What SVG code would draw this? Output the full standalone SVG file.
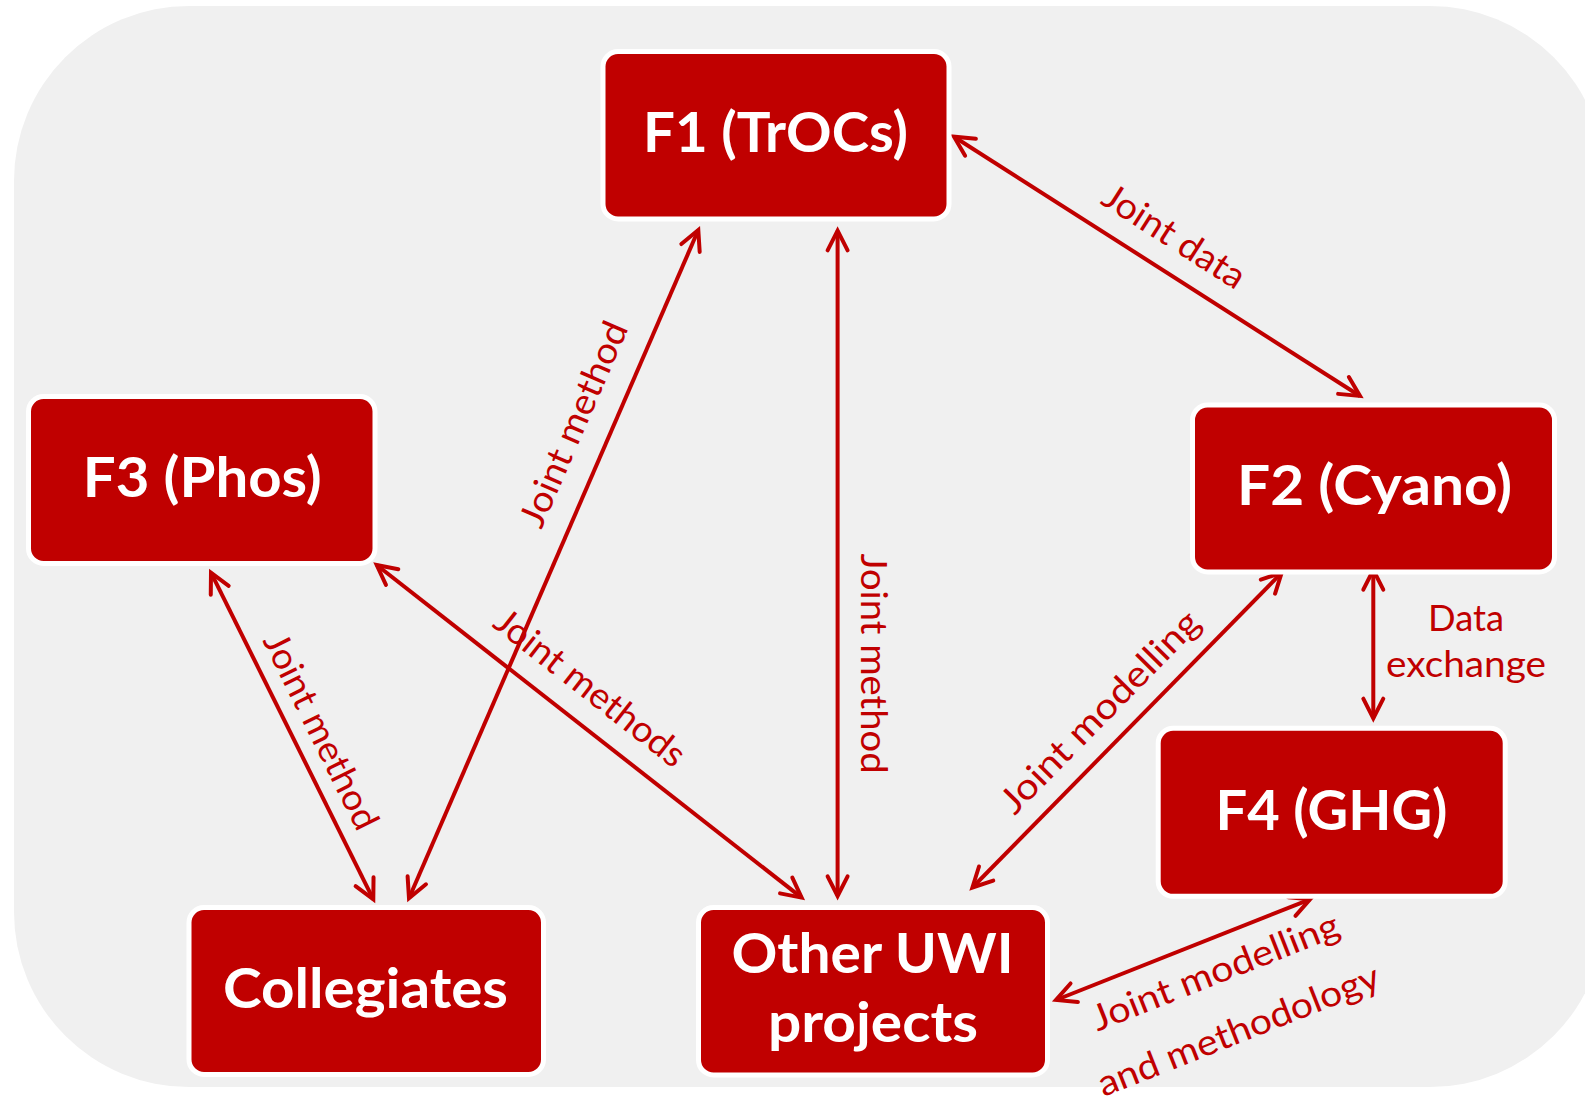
<svg xmlns="http://www.w3.org/2000/svg" width="1585" height="1100" viewBox="0 0 1585 1100">
<style>
.box{fill:#C00000;stroke:#FFFFFF;stroke-width:5}
.bt{font-family:Lato,"Open Sans","Liberation Sans",sans-serif;font-weight:bold;font-size:56px;fill:#FFFFFF;text-anchor:middle}
.lb{font-family:Lato,"Open Sans","Liberation Sans",sans-serif;font-size:36px;fill:#C00000;text-anchor:middle}
.ar{stroke:#C00000;stroke-width:4;fill:none;marker-start:url(#ah);marker-end:url(#ah)}
</style>
<defs>
<marker id="ah" markerUnits="userSpaceOnUse" orient="auto-start-reverse" refX="0" refY="0" markerWidth="40" markerHeight="40" viewBox="-30 -20 40 40" overflow="visible">
<path d="M-19.6,-10 L0,0 L-19.6,10" fill="none" stroke="#C00000" stroke-width="4" stroke-linecap="round" stroke-linejoin="miter"/>
</marker>
</defs>
<rect x="14" y="6" width="1591" height="1081" rx="175" fill="#F0F0F0"/>
<g id="connectors">
<line class="ar" x1="954" y1="136.7" x2="1360" y2="396"/>
<line class="ar" x1="698.3" y1="230" x2="409" y2="898.3"/>
<line class="ar" x1="837.6" y1="230.7" x2="837.6" y2="896"/>
<line class="ar" x1="211" y1="572.7" x2="373.3" y2="899.3"/>
<line class="ar" x1="376.7" y1="565" x2="801.6" y2="897.6"/>
<line class="ar" x1="1281.7" y1="572.7" x2="972.4" y2="887.5"/>
<line class="ar" x1="1373.3" y1="570" x2="1373.3" y2="718.3"/>
<line class="ar" x1="1056" y1="1000" x2="1310" y2="899.3"/>
<text class="lb" transform="translate(1167.5,246.7) rotate(32.6)" textLength="162" lengthAdjust="spacingAndGlyphs">Joint data</text>
<text class="lb" transform="translate(585,429) rotate(-66.6)" textLength="220" lengthAdjust="spacingAndGlyphs">Joint method</text>
<text class="lb" transform="translate(861,663.5) rotate(90)" textLength="220" lengthAdjust="spacingAndGlyphs">Joint method</text>
<text class="lb" transform="translate(310,736.7) rotate(63.6)" textLength="215" lengthAdjust="spacingAndGlyphs">Joint method</text>
<text class="lb" transform="translate(582.5,697.5) rotate(38.05)" textLength="232" lengthAdjust="spacingAndGlyphs">Joint methods</text>
<text class="lb" transform="translate(1108.6,720.4) rotate(-45.5)" textLength="268" lengthAdjust="spacingAndGlyphs">Joint modelling</text>
<text class="lb" x="1466" y="630.7" textLength="76" lengthAdjust="spacingAndGlyphs">Data</text>
<text class="lb" x="1466" y="677.3" textLength="160" lengthAdjust="spacingAndGlyphs">exchange</text>
<g transform="translate(1219.8,983.3) rotate(-21.6)">
<text class="lb" x="0" y="0" textLength="263" lengthAdjust="spacingAndGlyphs">Joint modelling</text>
<text class="lb" x="0" y="63" textLength="300" lengthAdjust="spacingAndGlyphs">and methodology</text>
</g>
</g>
<g id="f1">
<rect class="box" x="603" y="51.5" width="346" height="167.5" rx="15"/>
<text class="bt" x="775.5" y="151.7" textLength="265" lengthAdjust="spacingAndGlyphs">F1 (TrOCs)</text>
</g>
<g id="f2">
<rect class="box" x="1192.5" y="405" width="362" height="167" rx="15"/>
<text class="bt" x="1374.5" y="505" textLength="275" lengthAdjust="spacingAndGlyphs">F2 (Cyano)</text>
</g>
<g id="f3">
<rect class="box" x="28.5" y="396.5" width="346.5" height="167" rx="15"/>
<text class="bt" x="202.3" y="497.3" textLength="239" lengthAdjust="spacingAndGlyphs">F3 (Phos)</text>
</g>
<g id="f4">
<rect class="box" x="1158.2" y="728.3" width="347" height="168" rx="15"/>
<text class="bt" x="1331.5" y="830" textLength="232" lengthAdjust="spacingAndGlyphs">F4 (GHG)</text>
</g>
<g id="collegiates">
<rect class="box" x="189" y="907.5" width="354.5" height="167" rx="15"/>
<text class="bt" x="365.5" y="1008.3" textLength="285" lengthAdjust="spacingAndGlyphs">Collegiates</text>
</g>
<g id="other-uwi">
<rect class="box" x="698.5" y="907.5" width="349" height="167.5" rx="15"/>
<text class="bt" x="872.5" y="973.3" textLength="282" lengthAdjust="spacingAndGlyphs">Other UWI</text>
<text class="bt" x="873" y="1041.7" textLength="210" lengthAdjust="spacingAndGlyphs">projects</text>
</g>
</svg>
